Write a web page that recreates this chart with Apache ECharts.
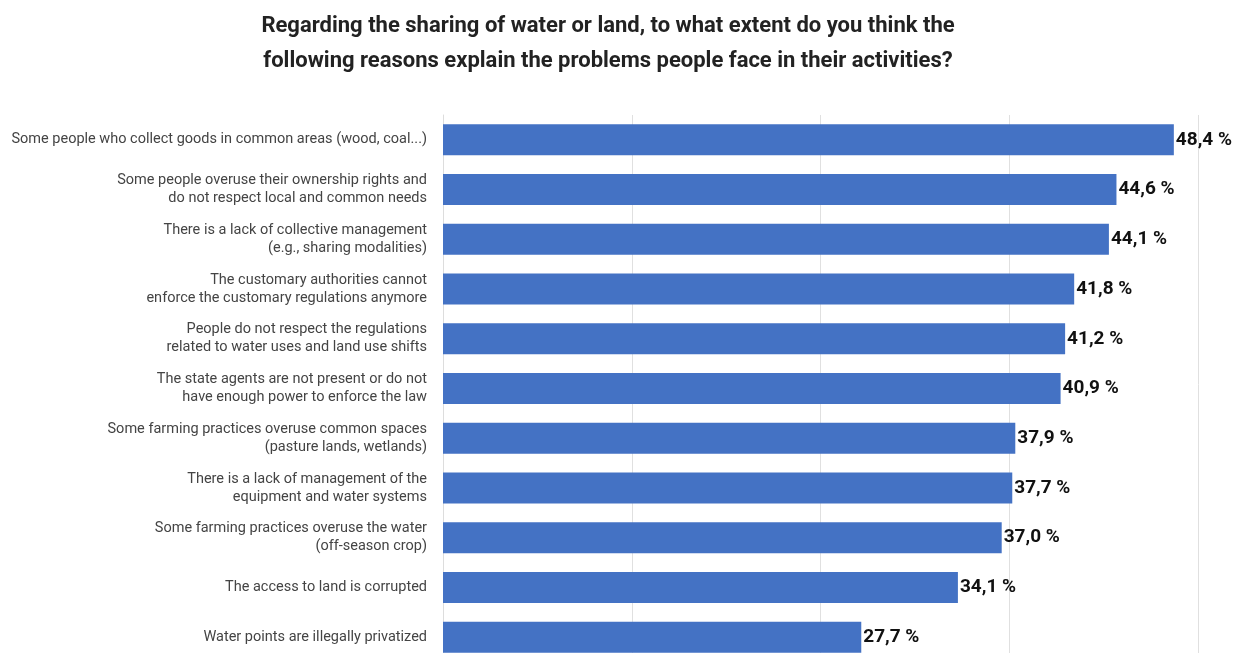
<!DOCTYPE html>
<html><head><meta charset="utf-8">
<script src="https://cdn.jsdelivr.net/npm/echarts@6/dist/echarts.min.js"></script>
<style>html,body{margin:0;padding:0;background:#fff}#c{width:1242px;height:653px}</style>
</head><body><div id="c"></div>
<script>
const titleLines = [
  "Regarding the sharing of water or land, to what extent do you think the",
  "following reasons explain the problems people face in their activities?"
];
const categories = [
  "Some people who collect goods in common areas (wood, coal...)",
  "Some people overuse their ownership rights and\ndo not respect local and common needs",
  "There is a lack of collective management\n(e.g., sharing modalities)",
  "The customary authorities cannot\nenforce the customary regulations anymore",
  "People do not respect the regulations\nrelated to water uses and land use shifts",
  "The state agents are not present or do not\nhave enough power to enforce the law",
  "Some farming practices overuse common spaces\n(pasture lands, wetlands)",
  "There is a lack of management of the\nequipment and water systems",
  "Some farming practices overuse the water\n(off-season crop)",
  "The access to land is corrupted",
  "Water points are illegally privatized"
];
const values = [48.4, 44.6, 44.1, 41.8, 41.2, 40.9, 37.9, 37.7, 37.0, 34.1, 27.7];

const chart = echarts.init(document.getElementById('c'));
chart.setOption({
  animation: false,
  graphic: [{
    type: 'text', x: 608, y: 9,
    style: {
      text: titleLines.join('\n'), align: 'center', verticalAlign: 'top',
      fontFamily: 'Roboto', fontWeight: 'bold', fontSize: 22, fill: '#222', lineHeight: 35
    }
  }],
  grid: { left: 443, top: 115, width: 755, height: 547, outerBoundsMode: 'none' },
  xAxis: {
    type: 'value', min: 0, max: 50, interval: 12.5,
    axisLabel: { show: false }, axisLine: { show: false }, axisTick: { show: false },
    splitLine: { lineStyle: { color: '#e0e0e0', width: 1 } }
  },
  yAxis: {
    type: 'category', inverse: true, data: categories,
    axisTick: { show: false },
    axisLine: { show: true, lineStyle: { color: '#dddddd' } },
    axisLabel: { fontFamily: 'Roboto', fontSize: 14.5, color: '#444', margin: 16, lineHeight: 18, align: 'right' }
  },
  series: [{
    type: 'bar', data: values, barWidth: 31,
    itemStyle: { color: '#4472C4' },
    label: {
      show: true, position: 'right', distance: 2,
      fontFamily: 'Roboto', fontWeight: 'bold', fontSize: 19, color: '#111',
      formatter: p => p.value.toFixed(1).replace('.', ',') + ' %'
    }
  }]
});
</script></body></html>
